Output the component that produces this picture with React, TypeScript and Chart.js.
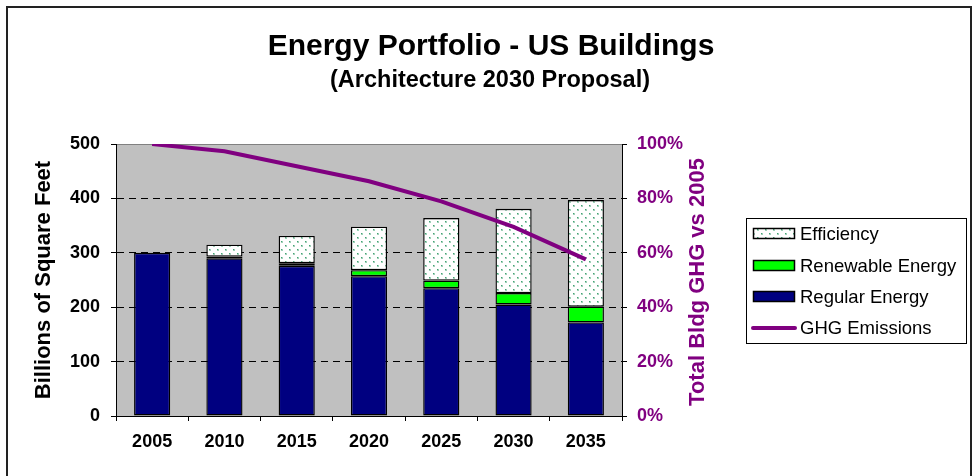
import React, { useEffect, useRef } from 'react';
import { Chart, registerables } from 'chart.js';

Chart.register(...registerables);

const years = ['2005', '2010', '2015', '2020', '2025', '2030', '2035'];
const regularEnergy = [300, 290, 276, 257, 235, 205, 172];
const renewableEnergy = [0, 3, 5, 11, 14, 21, 29];
const efficiency = [0, 22, 50, 80, 115, 155, 196];
const ghgEmissions = [100, 97.3, 91.8, 86.3, 78.9, 69.5, 57.6];
const leftTicks = [0, 100, 200, 300, 400, 500];
const rightTicks = [0, 20, 40, 60, 80, 100];

const TITLE = 'Energy Portfolio - US Buildings';
const SUBTITLE = '(Architecture 2030 Proposal)';
const LEFT_TITLE = 'Billions of Square Feet';
const RIGHT_TITLE = 'Total Bldg GHG vs 2005';
const LEGEND_ORDER = [2, 1, 0, 3];

const FONT = '"Liberation Sans", Arial, Helvetica, sans-serif';
const PURPLE = '#800080';
const NAVY = '#000080';
const GREEN = '#00FF00';
const PLOT_BG = '#C0C0C0';

function makeDots(ctx: CanvasRenderingContext2D): CanvasPattern | string {
  const c = document.createElement('canvas');
  c.width = 8;
  c.height = 8;
  const g = c.getContext('2d');
  if (!g) return '#ffffff';
  g.fillStyle = '#ffffff';
  g.fillRect(0, 0, 8, 8);
  g.fillStyle = '#9fd0b8';
  g.fillRect(1, 1, 2, 2);
  g.fillRect(5, 5, 2, 2);
  g.fillStyle = '#43a273';
  g.fillRect(1, 1, 1, 1);
  g.fillRect(5, 5, 1, 1);
  return ctx.createPattern(c, 'repeat') || '#ffffff';
}

const decorPlugin = {
  id: 'decor',
  beforeDraw(chart: any) {
    const { ctx, chartArea } = chart;
    ctx.save();
    ctx.fillStyle = '#ffffff';
    ctx.fillRect(0, 0, chart.width, chart.height);
    ctx.fillStyle = PLOT_BG;
    ctx.fillRect(chartArea.left, chartArea.top, chartArea.right - chartArea.left, chartArea.bottom - chartArea.top);
    ctx.restore();
  },
  afterDraw(chart: any) {
    const { ctx, chartArea } = chart;
    ctx.save();
    // outer frame
    ctx.strokeStyle = '#222222';
    ctx.lineWidth = 2;
    ctx.strokeRect(7, 7, 964, 490);

    // titles
    ctx.fillStyle = '#000000';
    ctx.textAlign = 'center';
    ctx.textBaseline = 'alphabetic';
    ctx.font = `bold 30px ${FONT}`;
    ctx.fillText(TITLE, 491, 55);
    ctx.font = `bold 23.5px ${FONT}`;
    ctx.fillText(SUBTITLE, 490, 87);

    // right axis title (reads bottom to top)
    ctx.save();
    ctx.translate(chartArea.right + 76, (chartArea.top + chartArea.bottom) / 2 + 2);
    ctx.rotate(-Math.PI / 2);
    ctx.fillStyle = PURPLE;
    ctx.font = `bold 22px ${FONT}`;
    ctx.textAlign = 'center';
    ctx.textBaseline = 'middle';
    ctx.fillText(RIGHT_TITLE, 0, 0);
    ctx.restore();

    // legend
    const bx = 746.5, by = 218.5, bw = 220, bh = 125;
    ctx.fillStyle = '#ffffff';
    ctx.fillRect(bx, by, bw, bh);
    ctx.strokeStyle = '#000000';
    ctx.lineWidth = 1;
    ctx.strokeRect(bx, by, bw, bh);
    const rowsY = [234, 266, 297, 328];
    ctx.font = `18.5px ${FONT}`;
    ctx.textAlign = 'left';
    ctx.textBaseline = 'middle';
    LEGEND_ORDER.forEach((di, i) => {
      const ds = chart.data.datasets[di];
      const y = rowsY[i];
      if (ds.type === 'line') {
        ctx.strokeStyle = ds.borderColor;
        ctx.lineWidth = 4;
        ctx.lineCap = 'round';
        ctx.beginPath();
        ctx.moveTo(753, y);
        ctx.lineTo(795, y);
        ctx.stroke();
        ctx.lineCap = 'butt';
      } else {
        ctx.fillStyle = ds.backgroundColor;
        ctx.fillRect(753.5, y - 5.5, 41, 10);
        ctx.strokeStyle = '#000000';
        ctx.lineWidth = 1.5;
        ctx.strokeRect(753.5, y - 5.5, 41, 10);
      }
      ctx.fillStyle = '#000000';
      ctx.fillText(ds.label, 800, y + 1);
    });
    ctx.restore();
  },
};

export default function App() {
  const canvasRef = useRef<HTMLCanvasElement | null>(null);

  useEffect(() => {
    const canvas = canvasRef.current;
    if (!canvas) return;
    const ctx = canvas.getContext('2d');
    if (!ctx) return;
    const dots = makeDots(ctx);

    const tickFont = { family: FONT, size: 18, weight: 'bold' as const };

    const barBase = {
      type: 'bar',
      borderColor: '#000000',
      borderWidth: 1.4,
      borderSkipped: false,
      yAxisID: 'y',
      order: 1,
    };

    const chart = new Chart(ctx, {
      type: 'bar',
      data: {
        labels: years,
        datasets: [
          { ...barBase, label: 'Regular Energy', data: regularEnergy, backgroundColor: NAVY },
          { ...barBase, label: 'Renewable Energy', data: renewableEnergy, backgroundColor: GREEN },
          { ...barBase, label: 'Efficiency', data: efficiency, backgroundColor: dots as any },
          {
            type: 'line',
            label: 'GHG Emissions',
            data: ghgEmissions,
            borderColor: PURPLE,
            backgroundColor: PURPLE,
            borderWidth: 4,
            pointRadius: 0,
            tension: 0,
            fill: false,
            yAxisID: 'y1',
            order: 0,
          },
        ] as any,
      },
      options: {
        animation: false,
        responsive: false,
        maintainAspectRatio: false,
        layout: { padding: { top: 144, left: 0, right: 0, bottom: 0 } },
        datasets: {
          bar: { barPercentage: 0.5, categoryPercentage: 1.0 },
        },
        plugins: {
          legend: { display: false },
          tooltip: { enabled: false },
          title: { display: false },
        },
        scales: {
          x: {
            type: 'category',
            stacked: true,
            offset: true,
            grid: {
              offset: true,
              drawOnChartArea: false,
              drawTicks: true,
              tickLength: 5,
              tickColor: '#000000',
              color: '#000000',
            },
            border: { display: true, color: '#000000', width: 1 },
            ticks: { color: '#000000', font: tickFont, padding: 10, maxRotation: 0 },
            afterFit: (s: any) => { s.height = 60; },
          },
          y: {
            type: 'linear',
            position: 'left',
            stacked: true,
            min: 0,
            max: 500,
            afterBuildTicks: (s: any) => { s.ticks = leftTicks.map((v) => ({ value: v })); },
            ticks: { color: '#000000', font: tickFont, padding: 11 },
            grid: {
              drawOnChartArea: true,
              drawTicks: true,
              tickLength: 5,
              tickColor: '#000000',
              lineWidth: 1,
              color: (c: any) => {
                const v = c.tick ? c.tick.value : null;
                if (v === 0) return 'rgba(0,0,0,0)';
                if (v === 500) return '#808080';
                return '#000000';
              },
            },
            border: {
              display: true,
              color: '#000000',
              width: 1,
              dash: (c: any) => (c.tick && c.tick.value === 500 ? [] : [7, 5]),
            },
            title: {
              display: true,
              text: LEFT_TITLE,
              color: '#000000',
              font: { family: FONT, size: 22, weight: 'bold' },
              padding: { top: 31, bottom: 0 },
            },
            afterFit: (s: any) => { s.width = 116; },
          },
          y1: {
            type: 'linear',
            position: 'right',
            min: 0,
            max: 100,
            afterBuildTicks: (s: any) => { s.ticks = rightTicks.map((v) => ({ value: v })); },
            ticks: {
              color: PURPLE,
              font: tickFont,
              padding: 10,
              callback: (v: any) => `${v}%`,
            },
            grid: {
              drawOnChartArea: false,
              drawTicks: true,
              tickLength: 5,
              tickColor: '#000000',
            },
            border: { display: true, color: '#000000', width: 1 },
            afterFit: (s: any) => { s.width = 351; },
          },
        },
      } as any,
      plugins: [decorPlugin],
    });

    return () => {
      chart.destroy();
    };
  }, []);

  return (
    <div style={{ position: 'absolute', left: 0, top: 0, width: 973, height: 476 }}>
      <canvas ref={canvasRef} width={973} height={476} style={{ display: 'block' }} />
    </div>
  );
}
